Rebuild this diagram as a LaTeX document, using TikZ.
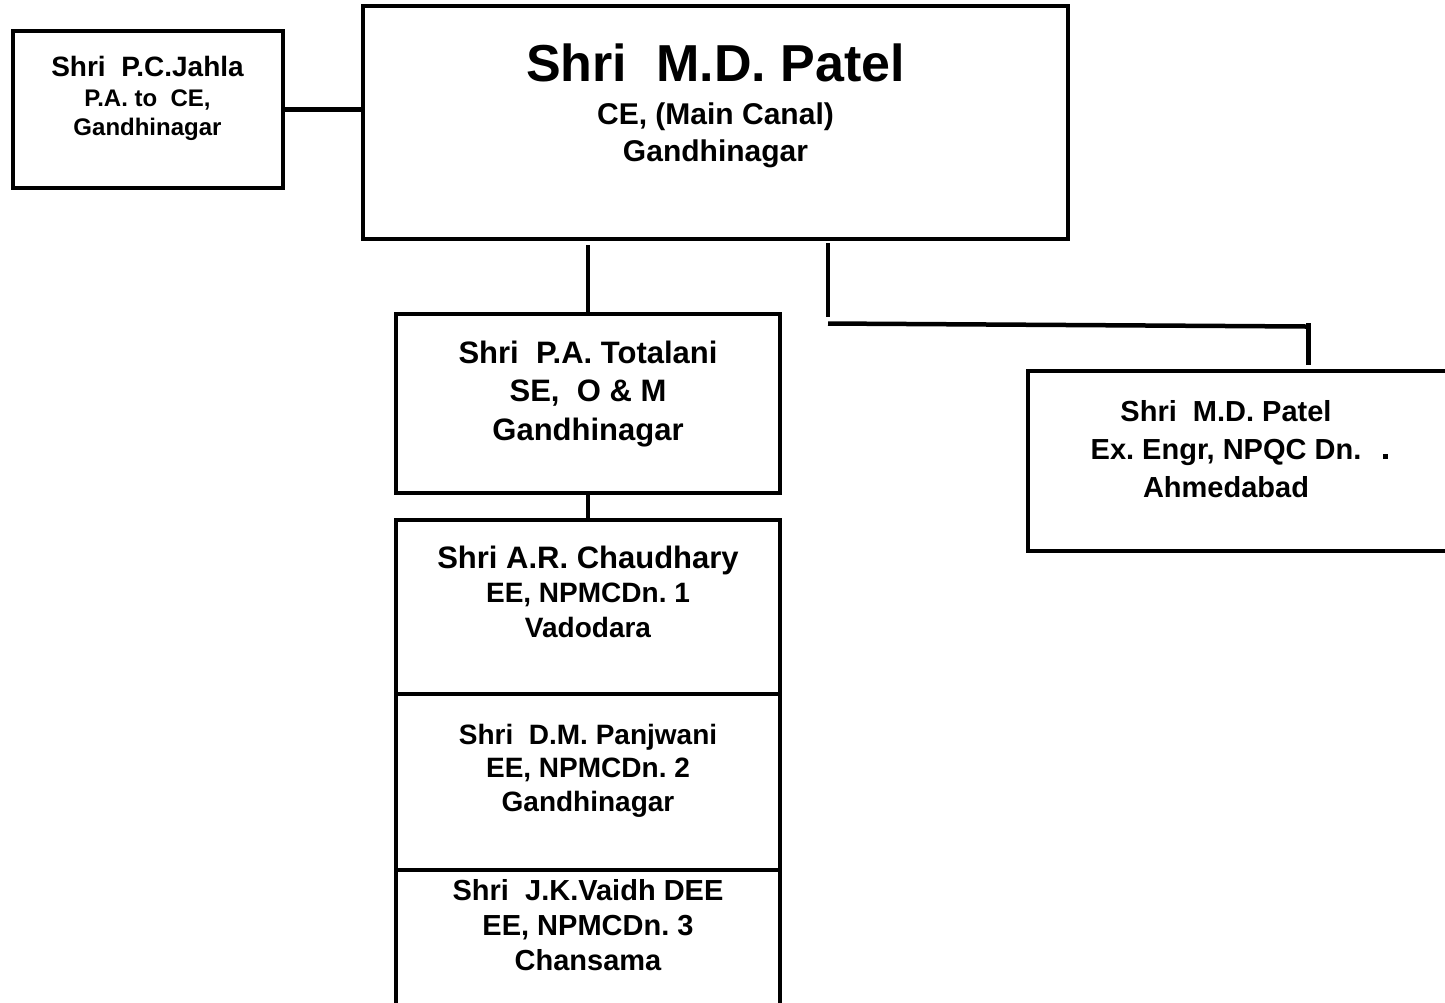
\documentclass[tikz,border=0pt]{standalone}
\usepackage{fontspec}
\setmainfont{Liberation Sans}
\usepackage{tikz}
\tikzstyle{box}=[shape=rectangle,draw,line width=4pt,inner sep=0pt]
\tikzstyle{link}=[line width=4.5pt]
\tikzstyle{lbl}=[anchor=north,align=center,inner sep=0pt]

\begin{document}
\frenchspacing
\begin{tikzpicture}[x=1pt,y=-1pt]
        \useasboundingbox (0,0) rectangle (1445,1002);
        \clip (0,0) rectangle (1445,1002);
        % boxes
        \node[box, minimum width=270pt, minimum height=157pt] (pa) at (147.5, 109.5) {};
        \node[box, minimum width=705pt, minimum height=233pt] (ce) at (715.5, 122.5) {};
        \node[box, minimum width=384pt, minimum height=179.5pt] (se) at (588, 403.5) {};
        \node[box, minimum width=384pt, minimum height=174pt] (chd) at (588, 607) {};
        \node[box, minimum width=384pt, minimum height=176pt] (pnj) at (588, 782) {};
        \node[box, minimum width=384pt, minimum height=170pt] (vdh) at (588, 955) {};
        \node[box, minimum width=452pt, minimum height=180pt] (npqc) at (1254, 461) {};
        % texts
        \node[lbl, font=\bfseries\fontsize{24}{29.5}\selectfont] (pa-txt) at (147.5, 56.5)
            {{\fontsize{28}{29.5}\selectfont Shri~~P.C.Jahla}\\ P.A. to~~CE,\\ Gandhinagar};
        \node[lbl, font=\bfseries\fontsize{30}{37}\selectfont] (ce-txt) at (715.5, 44)
            {{\fontsize{52}{37}\selectfont Shri~~M.D. Patel}\\[6pt] CE, (Main Canal)\\ Gandhinagar};
        \node[lbl, font=\bfseries\fontsize{31}{38.5}\selectfont] (se-txt) at (588, 340.4)
            {Shri~~P.A. Totalani\\ SE,~~O \& M\\ Gandhinagar};
        \node[lbl, font=\bfseries\fontsize{28}{34.5}\selectfont] (chd-txt) at (588, 545.4)
            {{\fontsize{31}{34.5}\selectfont Shri A.R. Chaudhary}\\ EE, NPMCDn. 1\\ Vadodara};
        \node[lbl, font=\bfseries\fontsize{28}{33.5}\selectfont] (pnj-txt) at (588, 723.6)
            {Shri~~D.M. Panjwani\\ EE, NPMCDn. 2\\ Gandhinagar};
        \node[lbl, font=\bfseries\fontsize{29}{35}\selectfont] (vdh-txt) at (588, 878.8)
            {Shri~~J.K.Vaidh DEE\\ EE, NPMCDn. 3\\ Chansama};
        \node[lbl, font=\bfseries\fontsize{29}{38}\selectfont] (npqc-txt) at (1226, 399.8)
            {Shri~~M.D. Patel\\ Ex. Engr, NPQC Dn.\\ Ahmedabad};
        % connectors
        \coordinate (drop) at (828, 243);
        \coordinate (bend) at (828, 317);
        \coordinate (runl) at (828, 323.5);
        \coordinate (runr) at (1306, 326.5);
        \coordinate (tap) at (1308.5, 323);
        \draw[link] (pa.east) -- (pa.east -| ce.west);
        \draw[link] ([yshift=-4pt]ce.south -| se.north) -- (se.north);
        \draw[link] (se.south) -- (chd.north);
        \draw[link] (drop) -- (bend);
        \draw[link] (runl) -- (runr);
        \draw[link] (tap) -- ([yshift=4pt]tap |- npqc.north);
        \fill (1383, 454) rectangle (1388, 459);
    \end{tikzpicture}
\end{document}
